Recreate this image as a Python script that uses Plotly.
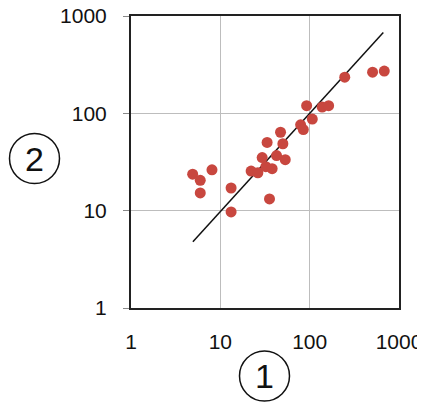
import plotly.graph_objects as go

x_vals = [4.9, 5.96, 5.96, 8.06, 13.2, 13.2, 22.1, 26.3, 29.4, 33.4, 32.3, 38.0, 35.5,
          42.6, 47.2, 50.1, 53.3, 79.2, 84.9, 92.5, 107, 138, 163, 247, 506, 684]
y_vals = [23.7, 20.5, 15.2, 26.3, 17.1, 9.7, 25.5, 24.5, 35.1, 50.3, 28.3, 27.0, 13.2,
          36.8, 63.9, 48.7, 33.4, 76.2, 68.1, 120, 87.3, 116, 120, 235, 265, 272]
line_x = [4.93, 667]
line_y = [4.8, 676]
tick_vals = [1, 10, 100, 1000]
tick_text = ["1", "10", "100", "1000"]

FONT = "Liberation Sans, Arial, sans-serif"

fig = go.Figure()
fig.add_trace(go.Scatter(x=line_x, y=line_y, mode="lines",
                         line=dict(color="#111111", width=1.5), hoverinfo="skip"))
fig.add_trace(go.Scatter(x=x_vals, y=y_vals, mode="markers",
                         marker=dict(color="#c8473f", size=11, line=dict(width=0))))

axis_common = dict(type="log", showgrid=True, gridcolor="#bdbdbd", gridwidth=1.2,
                   showline=True, linecolor="#222222", linewidth=2, mirror=True,
                   tickvals=tick_vals, ticktext=tick_text, zeroline=False, automargin=False,
                   ticklabeloverflow="allow",
                   tickfont=dict(family=FONT, size=21, color="#111111"))

fig.update_xaxes(range=[0, 3], ticks="", ticklabelstandoff=14, **axis_common)
fig.update_yaxes(range=[0, 3], ticks="outside", ticklen=6, tickcolor="#888888",
                 ticklabelstandoff=12, **axis_common)

# page body has an ~8px default margin; compensate so the plot lands where the reference has it
OFF = 8
W, H = 425 - OFF, 402 - OFF
L, R, T, B = 131 - OFF, 26, 16 - OFF, 94
pw, ph = W - L - R, H - T - B

def px2paper(px, py):
    return (px - OFF - L) / pw, (H - B - (py - OFF)) / ph

shapes = []
annotations = []
for label, cx, cy in [("2", 34.5, 158.5), ("1", 264.5, 376)]:
    r = 25
    x0, y0 = px2paper(cx - r, cy + r)
    x1, y1 = px2paper(cx + r, cy - r)
    shapes.append(dict(type="circle", xref="paper", yref="paper", x0=x0, y0=y0, x1=x1, y1=y1,
                       line=dict(color="#111111", width=1.5)))
    ax, ay = px2paper(cx, cy)
    annotations.append(dict(text=label, xref="paper", yref="paper", x=ax, y=ay,
                            xanchor="center", yanchor="middle", showarrow=False,
                            font=dict(family=FONT, size=34, color="#111111")))

fig.update_layout(width=W, height=H, margin=dict(l=L, r=R, t=T, b=B),
                  paper_bgcolor="white", plot_bgcolor="white", showlegend=False,
                  shapes=shapes, annotations=annotations)

fig.write_html("out.html")
